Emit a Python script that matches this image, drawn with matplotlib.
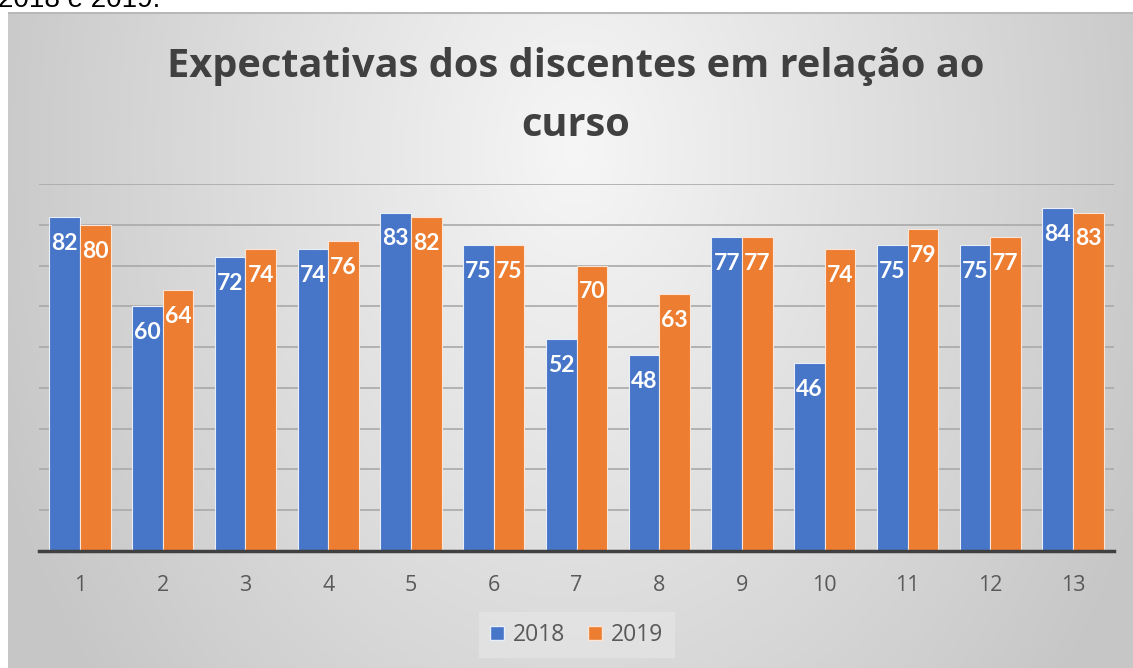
import numpy as np
import matplotlib
matplotlib.use('Agg')
import matplotlib.pyplot as plt
from matplotlib.patches import Patch

categories = ['1', '2', '3', '4', '5', '6', '7', '8', '9', '10', '11', '12', '13']
vals_2018 = [82, 60, 72, 74, 83, 75, 52, 48, 77, 46, 75, 75, 84]
vals_2019 = [80, 64, 74, 76, 82, 75, 70, 63, 77, 74, 79, 77, 83]
series_names = ['2018', '2019']
title_lines = ['Expectativas dos discentes em relação ao', 'curso']

W, H = 1133, 668
fig = plt.figure(figsize=(W / 100, H / 100), dpi=100)
fig.patch.set_facecolor('white')

# chart area background (radial gradient)
x0, y0 = 8, 12
bg = fig.add_axes([x0 / W, 0, 1 - x0 / W, (H - y0) / H], zorder=-5)
gx, gy = np.meshgrid(np.arange(x0, W), np.arange(y0, H))
d = np.sqrt(((gx - 576) / 600.0) ** 2 + ((gy - 150) / 820.0) ** 2)
g = np.clip(0.965 - 0.18 * d, 0.78, 0.97)
bg.imshow(np.dstack([g, g, g]), aspect='auto', interpolation='bilinear')
bg.axhline(0, color='#b8b8b8', lw=1.5)
bg.axis('off')

# partial caption line cut off at the top
fig.text(-2 / W, 1 - 7 / H, '2018 e 2019.', family='Liberation Sans', fontsize=20,
         color='black', ha='left', va='baseline')

ax = fig.add_axes([38.6 / W, (H - 551) / H, (1114.4 - 38.6) / W, (551 - 184) / H])
ax.set_facecolor('none')

x = np.arange(len(categories))
w = 0.37
b1 = ax.bar(x - w / 2, vals_2018, w, color='#4775C8', edgecolor='#e8eefa', linewidth=0.8, zorder=3)
b2 = ax.bar(x + w / 2, vals_2019, w, color='#ED7D31', edgecolor='#fbe5d6', linewidth=0.8, zorder=3)

for bars, vals in [(b1, vals_2018), (b2, vals_2019)]:
    for r, v in zip(bars, vals):
        ax.annotate(str(v), (r.get_x() + r.get_width() / 2, v), xytext=(0, -19),
                    textcoords='offset points', ha='center', va='center',
                    color='white', fontsize=16.5, fontweight='bold', family='Lato', zorder=4)

ax.set_xlim(-0.5, len(categories) - 0.5)
ax.set_ylim(0, 90)
ax.set_yticks(np.arange(10, 91, 10))
ax.yaxis.grid(True, color='#a9a9a9', linewidth=1.2, zorder=0)
ax.tick_params(axis='y', left=False, labelleft=False)
ax.set_xticks(x)
ax.set_xticklabels(categories, family='Open Sans', fontsize=15.5, color='#595959')
ax.tick_params(axis='x', length=0, pad=17)
for s in ['top', 'right', 'left']:
    ax.spines[s].set_visible(False)
ax.spines['bottom'].set_color('#404040')
ax.spines['bottom'].set_linewidth(2.5)
ax.spines['bottom'].set_zorder(5)

fig.text(576 / W, 1 - 77 / H, title_lines[0], family='Open Sans', fontweight='bold',
         fontsize=28.6, color='#404040', ha='center', va='baseline')
fig.text(576 / W, 1 - 136 / H, title_lines[1], family='Open Sans', fontweight='bold',
         fontsize=28.6, color='#404040', ha='center', va='baseline')

handles = [Patch(facecolor='#4775C8', edgecolor='#e8eefa'), Patch(facecolor='#ED7D31', edgecolor='#fbe5d6')]
leg = fig.legend(handles, series_names, loc='center', bbox_to_anchor=(577 / W, 1 - 635 / H),
                 ncol=2, frameon=True, fancybox=False, handlelength=0.6, handleheight=0.6,
                 handletextpad=0.4, columnspacing=1.0, borderpad=0.5,
                 prop={'family': 'Open Sans', 'size': 16.5})
leg.get_frame().set_facecolor('#e4e4e4')
leg.get_frame().set_edgecolor('none')
leg.get_frame().set_alpha(0.8)
for t in leg.get_texts():
    t.set_color('#595959')

fig.savefig('out.png', dpi=100)
